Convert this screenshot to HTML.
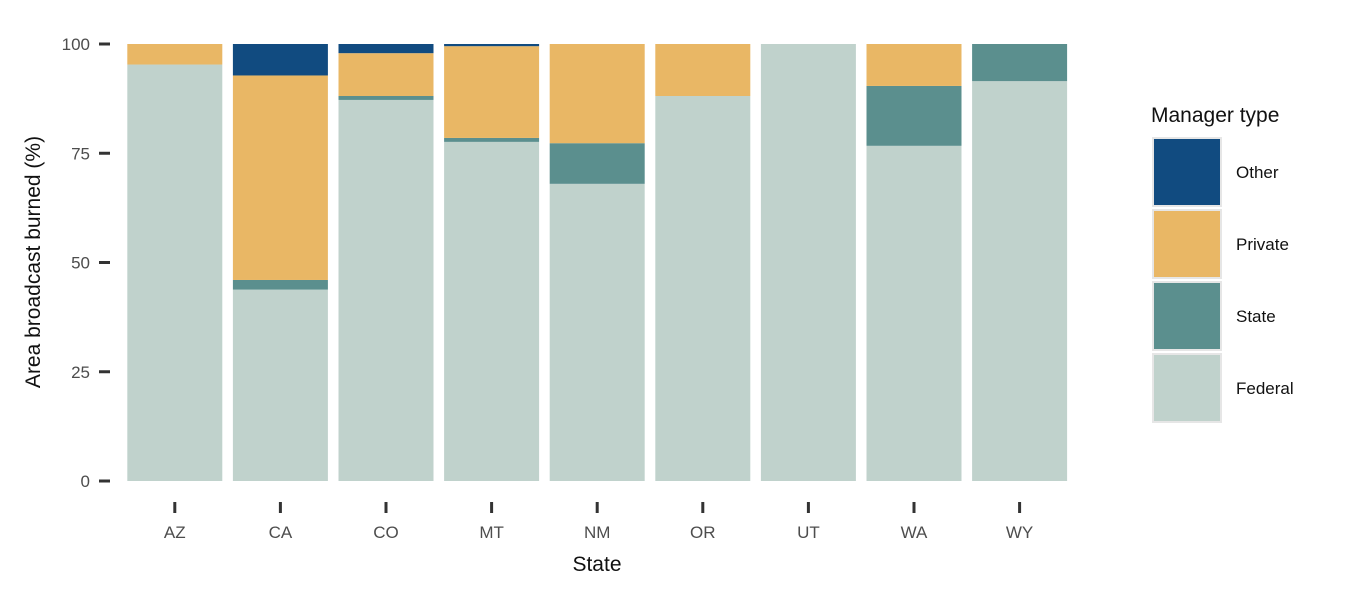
<!DOCTYPE html>
<html><head><meta charset="utf-8"><style>
body{margin:0;background:#fff;font-family:"Liberation Sans",Arial,sans-serif}
</style></head><body>
<svg id="chart" width="1350" height="600" xmlns="http://www.w3.org/2000/svg" font-family="Liberation Sans, Arial, sans-serif">
<g id="bars"></g>
<g id="yaxis"></g>
<g id="xaxis"></g>
<text transform="translate(40,262) rotate(-90)" text-anchor="middle" font-size="21" fill="#111">Area broadcast burned (%)</text>
<text x="597" y="571" text-anchor="middle" font-size="21" fill="#111">State</text>
<g id="legend">
<text x="1151" y="122" font-size="21" fill="#111">Manager type</text>
</g>
</svg>
<script>
const states=["AZ","CA","CO","MT","NM","OR","UT","WA","WY"];
const federal=[95.3,43.8,87.2,77.6,68.0,88.1,100,76.7,91.5];
const stateOwn=[0,2.2,0.9,0.9,9.3,0,0,13.7,8.5];
const privateOwn=[4.7,46.8,9.8,21.0,22.7,11.9,0,9.6,0];
const other=[0,7.2,2.1,0.5,0,0,0,0,0];
const yTicks=[0,25,50,75,100];
const seriesNames=["Federal","State","Private","Other"];
const colors={Federal:"#c0d2cc",State:"#5b8f8e",Private:"#e9b765",Other:"#114b80"};
const series={Federal:federal,State:stateOwn,Private:privateOwn,Other:other};
const NS="http://www.w3.org/2000/svg";
const y0=481,y100=44,xL=122,step=105.6,bw=95;
const yS=v=>y0-(y0-y100)*v/100;
const xC=i=>xL+step*(i+0.5);
function mk(t,a,p){const e=document.createElementNS(NS,t);for(const k in a)e.setAttribute(k,a[k]);p.appendChild(e);return e;}
const bars=document.getElementById('bars');
states.forEach((s,i)=>{let cum=0;
 seriesNames.forEach(n=>{const v=series[n][i];if(v<=0)return;
  const r=mk('rect',{x:xC(i)-bw/2,y:yS(cum+v),width:bw,height:yS(cum)-yS(cum+v),fill:colors[n]},bars);
  
  
  cum+=v;});
});
const ya=document.getElementById('yaxis');
yTicks.forEach(t=>{const l=mk('line',{x1:99,x2:110,y1:yS(t),y2:yS(t),stroke:'#333','stroke-width':3},ya);
 
 const tx=mk('text',{x:90,y:yS(t)+6,'text-anchor':'end','font-size':17,fill:'#4d4d4d'},ya);tx.textContent=t;
 });
const xa=document.getElementById('xaxis');
states.forEach((s,i)=>{const l=mk('line',{x1:xC(i),x2:xC(i),y1:502,y2:513,stroke:'#333','stroke-width':3},xa);
 
 const tx=mk('text',{x:xC(i),y:538,'text-anchor':'middle','font-size':17,fill:'#4d4d4d'},xa);tx.textContent=s;
 });
const lg=document.getElementById('legend');
["Other","Private","State","Federal"].forEach((n,j)=>{const y=138+j*72;
 const r=mk('rect',{x:1153,y:y,width:68,height:68,fill:colors[n],stroke:'#e6e6e6','stroke-width':2},lg);
 
 const t=mk('text',{x:1236,y:y+40,'font-size':17,fill:'#111'},lg);t.textContent=n;
 });
</script>
</body></html>
